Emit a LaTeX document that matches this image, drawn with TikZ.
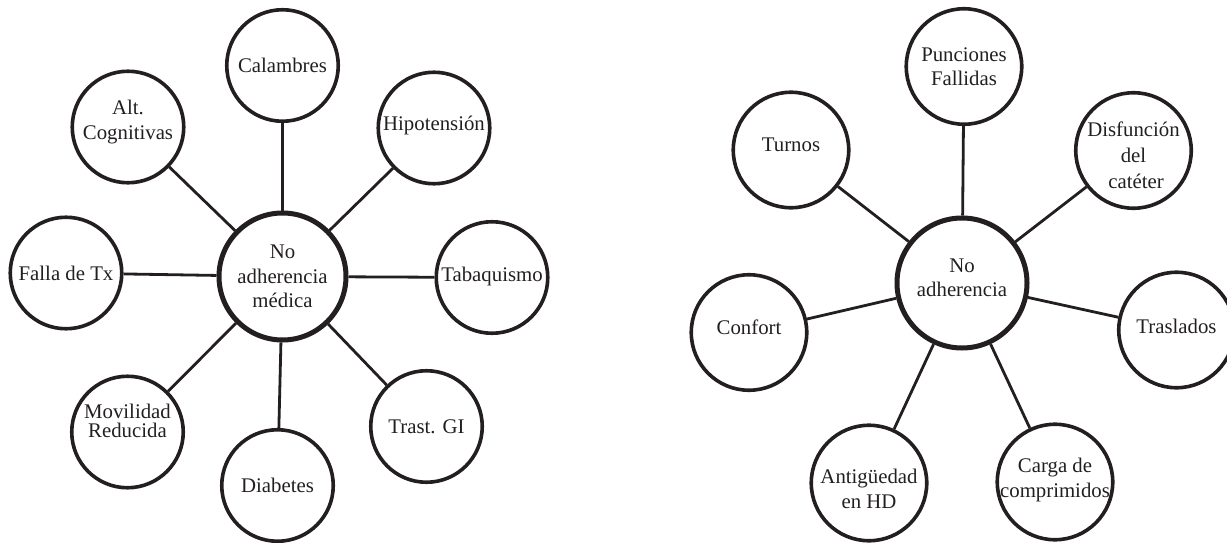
\documentclass[tikz,border=0pt]{standalone}
\usepackage{fontspec}
\setmainfont{Liberation Serif}
\definecolor{ink}{HTML}{231F20}
\begin{document}
\begin{tikzpicture}[x=1pt,y=-1pt,
  sat/.style={circle,draw=ink,line width=3.6pt,minimum size=111.5pt,inner sep=0pt},
  satR/.style={sat,minimum size=115.5pt},
  hub/.style={circle,draw=ink,line width=5pt,minimum size=127pt,inner sep=0pt},
  hubR/.style={hub,minimum size=130pt},
  txt/.style={text=ink,align=center,font=\fontsize{20.8}{24.5}\selectfont,inner sep=0pt},
  link/.style={draw=ink,line width=2.8pt}]
\useasboundingbox (0,0) rectangle (1227,543);
% ---------- left diagram ----------
\node[hub] (hl) at (282.5,276.5) {};
\node[sat] (cal) at (282.5,65.5) {};
\node[sat] (alt) at (128,127) {};
\node[sat] (hipo) at (434,128) {};
\node[sat] (falla) at (66,273) {};
\node[sat] (taba) at (492,277.5) {};
\node[sat] (movil) at (127.5,432) {};
\node[sat] (trast) at (426.5,426.5) {};
\node[sat] (diab) at (277.5,485.5) {};
\node[txt] (hl-t) at (hl) {No\\adherencia\\médica};
\node[txt] (cal-t) at (cal) {Calambres};
\node[txt] (alt-t) at ([yshift=5pt]alt.center) {Alt.\\Cognitivas};
\node[txt] (hipo-t) at ([yshift=3pt]hipo.center) {Hipotensión};
\node[txt] (falla-t) at (falla) {Falla de Tx};
\node[txt] (taba-t) at ([yshift=1pt]taba.center) {Tabaquismo};
\node[txt,font=\fontsize{20.8}{19.5}\selectfont] (movil-t) at ([yshift=11pt]movil.center) {Movilidad\\Reducida};
\node[txt] (trast-t) at (trast) {Trast. GI};
\node[txt] (diab-t) at (diab) {Diabetes};
\foreach \n in {cal,alt,hipo,falla,taba,movil,trast,diab}
  \draw[link] (hl) -- (\n);
% ---------- right diagram ----------
\node[hubR] (hr) at (962,283) {};
\node[satR] (punc) at (964,66.5) {};
\node[satR] (turnos) at (791,150) {};
\node[satR] (disf) at (1133.5,150.5) {};
\node[satR] (confort) at (749,332.5) {};
\node[satR] (trasl) at (1176.5,330) {};
\node[satR] (antig) at (869,483) {};
\node[satR] (carga) at (1055,482) {};
\node[txt] (hr-t) at ([yshift=5pt]hr.center) {No\\adherencia};
\node[txt] (punc-t) at (punc) {Punciones\\Fallidas};
\node[txt] (turnos-t) at ([yshift=5pt]turnos.center) {Turnos};
\node[txt,font=\fontsize{20.8}{26}\selectfont] (disf-t) at ([yshift=-5pt]disf.center) {Disfunción\\del\\\hspace*{5pt}catéter};
\node[txt] (confort-t) at ([yshift=5pt]confort.center) {Confort};
\node[txt] (trasl-t) at ([yshift=4pt]trasl.center) {Traslados};
\node[txt] (antig-t) at ([yshift=-6pt]antig.center) {Antigüedad\\en HD};
\node[txt] (carga-t) at ([yshift=2pt]carga.center) {Carga de\\comprimidos};
\foreach \n in {punc,turnos,disf,confort,trasl,antig,carga}
  \draw[link] (hr) -- (\n);
\end{tikzpicture}
\end{document}
